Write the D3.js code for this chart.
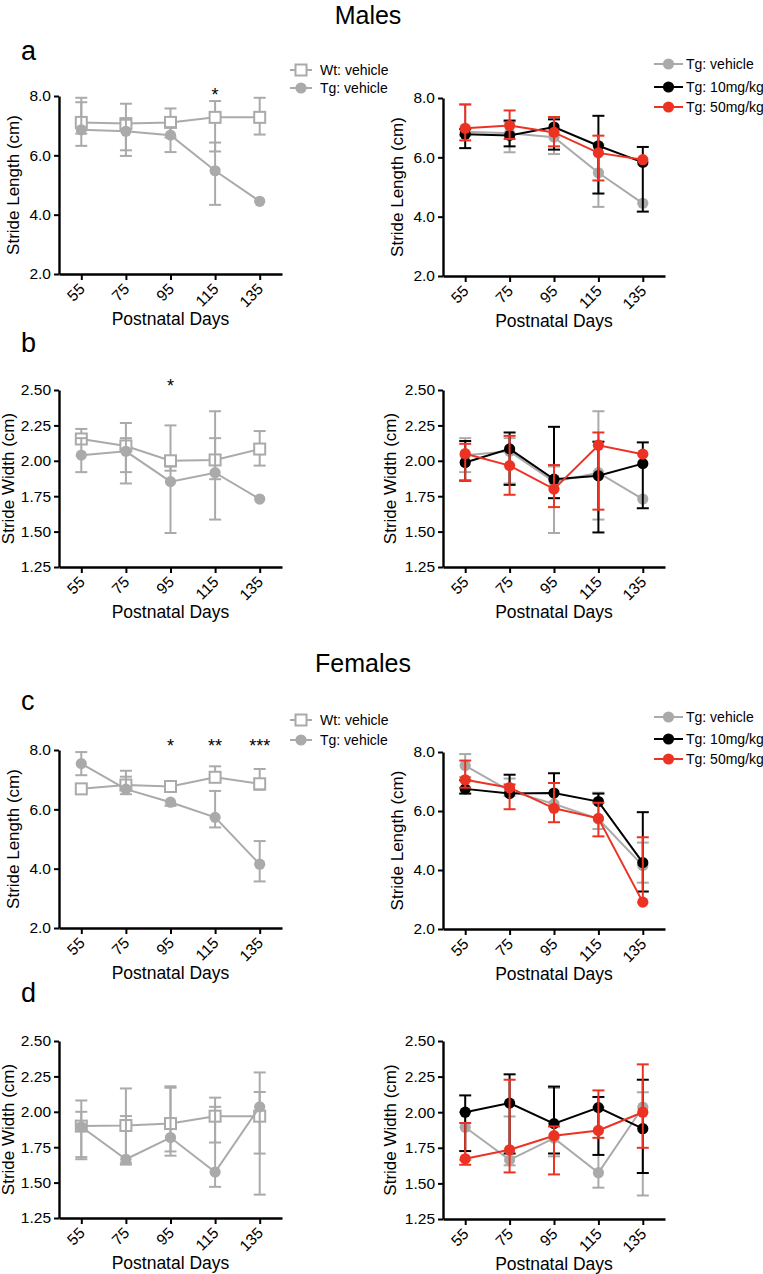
<!DOCTYPE html>
<html lang="en">
<head>
<meta charset="UTF-8">
<script src="https://d3js.org/d3.v7.min.js"></script>
<title>Stride length and width</title>
<style>
  body { margin: 0; background: #fff; }
  svg { display: block; font-family: "Liberation Sans", Arial, sans-serif; }
</style>
</head>
<body>
<div id="chart"></div>
<script>
// categories
const days = [55, 75, 95, 115, 135];
const lenTicks = [2, 4, 6, 8];
const widTicks = [1.25, 1.5, 1.75, 2.0, 2.25, 2.5];

// Males - stride length
const mLenWt   = [7.11, 7.07, 7.11, 7.28, 7.28];
const mLenWtHi = [7.94, 7.74, 7.58, 7.83, 7.94];
const mLenWtLo = [6.32, 5.98, 6.60, 6.13, 6.70];
const mLenTg   = [6.86, 6.81, 6.68, 5.48, 4.45];
const mLenTgHi = [7.79, 7.20, 6.95, 6.43, null];
const mLenTgLo = [6.73, 6.17, 6.11, 4.33, null];
const mLen10   = [6.78, 6.74, 7.02, 6.39, 5.83];
const mLen10Hi = [6.95, 7.24, 7.28, 7.40, 6.35];
const mLen10Lo = [6.31, 6.37, 6.26, 4.78, 4.17];
const mLen50   = [6.98, 7.07, 6.84, 6.15, 5.92];
const mLen50Hi = [7.78, 7.58, 7.36, 6.73, null];
const mLen50Lo = [6.57, 6.62, 6.37, 5.22, null];

// Males - stride width
const mWidWt   = [2.154, 2.105, 2.00, 2.006, 2.083];
const mWidWtHi = [2.225, 2.267, 2.25, 2.16, 2.21];
const mWidWtLo = [null, 1.92, 1.93, 1.87, 1.966];
const mWidTg   = [2.04, 2.067, 1.853, 1.916, 1.73];
const mWidTgHi = [2.16, 2.16, 1.96, 2.35, null];
const mWidTgLo = [1.92, 1.84, 1.49, 1.585, null];
const mWid10   = [1.988, 2.084, 1.87, 1.895, 1.98];
const mWid10Hi = [2.14, 2.20, 2.24, 2.135, 2.13];
const mWid10Lo = [1.86, 1.83, 1.736, 1.494, 1.665];
const mWid50   = [2.05, 1.966, 1.80, 2.11, 2.047];
const mWid50Hi = [2.12, 2.176, 1.97, 2.20, null];
const mWid50Lo = [1.86, 1.76, 1.673, 1.655, null];

// Females - stride length
const fLenWt   = [6.69, 6.82, 6.77, 7.08, 6.86];
const fLenWtHi = [null, 7.30, null, 7.45, 7.36];
const fLenWtLo = [null, null, null, null, 6.66];
const fLenTg   = [7.54, 6.68, 6.24, 5.73, 4.15];
const fLenTgHi = [7.93, 7.10, null, 6.62, 4.93];
const fLenTgLo = [7.15, 6.51, 6.12, 5.39, 3.57];
const fLen10   = [6.75, 6.59, 6.61, 6.32, 4.25];
const fLen10Hi = [7.04, 7.23, 7.28, 6.59, 5.96];
const fLen10Lo = [6.59, null, null, null, 3.27];
const fLen50   = [7.06, 6.79, 6.09, 5.75, 2.91];
const fLen50Hi = [7.71, 6.90, 6.95, 6.28, 5.11];
const fLen50Lo = [6.79, 6.06, 5.62, 5.14, null];

// Females - stride width
const fWidWt   = [1.899, 1.903, 1.917, 1.969, 1.969];
const fWidWtHi = [2.08, 2.165, 2.18, 2.10, 2.278];
const fWidWtLo = [1.68, 1.64, 1.72, 1.783, 1.705];
const fWidTg   = [1.894, 1.665, 1.818, 1.575, 2.035];
const fWidTgHi = [2.0, 1.97, 2.17, 2.035, 2.14];
const fWidTgLo = [1.665, 1.627, 1.69, 1.47, 1.415];
const fWid10   = [2.0, 2.064, 1.92, 2.032, 1.884];
const fWid10Hi = [2.118, 2.266, 2.18, 2.107, 2.228];
const fWid10Lo = [1.727, 1.71, 1.71, 1.70, 1.573];
const fWid50   = [1.673, 1.736, 1.835, 1.872, 2.0];
const fWid50Hi = [1.924, 2.228, 1.90, 2.153, 2.336];
const fWid50Lo = [1.631, 1.577, 1.563, 1.82, 1.75];

const grey = "#aaaaaa", red = "#ec3323", black = "#000000";
const W = 763, H = 1274;

const svg = d3.select("#chart").append("svg").attr("width", W).attr("height", H);

function ser(name, vals, hi, lo, color, shape) {
  return { name, vals, hi, lo, color, shape };
}

function marker(g, shape, color, cx, cy) {
  if (shape === "square") {
    g.append("rect").attr("x", cx - 5.5).attr("y", cy - 5.5).attr("width", 11).attr("height", 11)
      .attr("fill", "#fff").attr("stroke", color).attr("stroke-width", 2);
  } else {
    g.append("circle").attr("cx", cx).attr("cy", cy).attr("r", 5.6).attr("fill", color);
  }
}

function panel(p) {
  const x = d3.scalePoint().domain(days).range([p.left, p.right]).padding(0.5);
  const y = d3.scaleLinear().domain(p.domain).range([p.bottom, p.top]);
  const g = svg.append("g");

  // axes
  const yAxis = d3.axisLeft(y).tickValues(p.ticks).tickFormat(d3.format(p.fmt)).tickSize(5).tickSizeOuter(0);
  const gy = g.append("g").attr("transform", `translate(${p.left},0)`).call(yAxis);
  const xAxis = d3.axisBottom(x).tickSize(6).tickSizeOuter(0);
  const gx = g.append("g").attr("transform", `translate(0,${p.bottom})`).call(xAxis);
  [gx, gy].forEach(a => {
    a.select(".domain").attr("stroke-width", 2.4).attr("stroke", "#000");
    a.selectAll(".tick line").attr("stroke-width", 2).attr("stroke", "#000");
    a.selectAll("text").attr("font-size", 15.5).attr("fill", "#000")
      .attr("font-family", "Liberation Sans, Arial, sans-serif");
  });
  gx.selectAll("text").attr("y", 0).attr("dy", 0).attr("x", 0)
    .attr("transform", "translate(4,16) rotate(-45)").style("text-anchor", "end");

  // axis titles
  g.append("text").attr("x", (p.left + p.right) / 2).attr("y", p.bottom + 51)
    .attr("text-anchor", "middle").attr("font-size", 17.5).text("Postnatal Days");
  g.append("text")
    .attr("transform", `translate(${p.left - p.yLabOff},${(p.top + p.bottom) / 2}) rotate(-90)`)
    .attr("text-anchor", "middle").attr("dominant-baseline", "middle")
    .attr("font-size", 17).text(p.yLabel);

  // series
  p.series.forEach(s => {
    const sg = g.append("g");
    days.forEach((d, i) => {
      const cx = x(d), cy = y(s.vals[i]);
      [s.hi[i], s.lo[i]].forEach(e => {
        if (e == null) return;
        sg.append("line").attr("x1", cx).attr("x2", cx).attr("y1", cy).attr("y2", y(e))
          .attr("stroke", s.color).attr("stroke-width", 2);
        sg.append("line").attr("x1", cx - 6).attr("x2", cx + 6).attr("y1", y(e)).attr("y2", y(e))
          .attr("stroke", s.color).attr("stroke-width", 2);
      });
    });
    const line = d3.line().x((v, i) => x(days[i])).y(v => y(v));
    sg.append("path").attr("d", line(s.vals)).attr("fill", "none")
      .attr("stroke", s.color).attr("stroke-width", 2);
    days.forEach((d, i) => marker(sg, s.shape, s.color, x(d), y(s.vals[i])));
  });

  // stars
  (p.stars || []).forEach(st => {
    g.append("text").attr("x", x(st.day)).attr("y", p.starY + 10)
      .attr("text-anchor", "middle").attr("font-size", 18).text(st.text);
  });

  // legend
  if (p.legend) {
    const L = p.legend;
    p.series.forEach((s, i) => {
      const ly = L.rows[i];
      g.append("line").attr("x1", L.x0).attr("x2", L.x1).attr("y1", ly).attr("y2", ly)
        .attr("stroke", s.color).attr("stroke-width", 2);
      marker(g, s.shape, s.color, (L.x0 + L.x1) / 2, ly);
      g.append("text").attr("x", L.tx).attr("y", ly + 5).attr("font-size", 14).text(s.name);
    });
  }
}

const LL = 59, LR = 282, RL = 443, RR = 665;
const lenLab = "Stride Length (cm)", widLab = "Stride Width (cm)";

panel({ left: LL, right: LR, top: 96, bottom: 274, domain: [2, 8], ticks: lenTicks, fmt: ".1f",
  yLabel: lenLab, yLabOff: 44,
  series: [ser("Wt: vehicle", mLenWt, mLenWtHi, mLenWtLo, grey, "square"),
           ser("Tg: vehicle", mLenTg, mLenTgHi, mLenTgLo, grey, "circle")],
  legend: { rows: [70, 88], x0: 290, x1: 312, tx: 320 },
  stars: [{ day: 115, text: "*" }], starY: 91 });

panel({ left: RL, right: RR, top: 98, bottom: 276, domain: [2, 8], ticks: lenTicks, fmt: ".1f",
  yLabel: lenLab, yLabOff: 44,
  series: [ser("Tg: vehicle", mLenTg, mLenTgHi, mLenTgLo, grey, "circle"),
           ser("Tg: 10mg/kg", mLen10, mLen10Hi, mLen10Lo, black, "circle"),
           ser("Tg: 50mg/kg", mLen50, mLen50Hi, mLen50Lo, red, "circle")],
  legend: { rows: [64, 87, 107], x0: 654, x1: 683, tx: 686 } });

panel({ left: LL, right: LR, top: 390, bottom: 567, domain: [1.25, 2.5], ticks: widTicks, fmt: ".2f",
  yLabel: widLab, yLabOff: 49,
  series: [ser("Wt: vehicle", mWidWt, mWidWtHi, mWidWtLo, grey, "square"),
           ser("Tg: vehicle", mWidTg, mWidTgHi, mWidTgLo, grey, "circle")],
  stars: [{ day: 95, text: "*" }], starY: 382 });

panel({ left: RL, right: RR, top: 390, bottom: 567, domain: [1.25, 2.5], ticks: widTicks, fmt: ".2f",
  yLabel: widLab, yLabOff: 51,
  series: [ser("Tg: vehicle", mWidTg, mWidTgHi, mWidTgLo, grey, "circle"),
           ser("Tg: 10mg/kg", mWid10, mWid10Hi, mWid10Lo, black, "circle"),
           ser("Tg: 50mg/kg", mWid50, mWid50Hi, mWid50Lo, red, "circle")] });

panel({ left: LL, right: LR, top: 750, bottom: 928, domain: [2, 8], ticks: lenTicks, fmt: ".1f",
  yLabel: lenLab, yLabOff: 44,
  series: [ser("Wt: vehicle", fLenWt, fLenWtHi, fLenWtLo, grey, "square"),
           ser("Tg: vehicle", fLenTg, fLenTgHi, fLenTgLo, grey, "circle")],
  legend: { rows: [720, 740], x0: 290, x1: 312, tx: 320 },
  stars: [{ day: 95, text: "*" }, { day: 115, text: "**" }, { day: 135, text: "***" }], starY: 742 });

panel({ left: RL, right: RR, top: 752, bottom: 929, domain: [2, 8], ticks: lenTicks, fmt: ".1f",
  yLabel: lenLab, yLabOff: 44,
  series: [ser("Tg: vehicle", fLenTg, fLenTgHi, fLenTgLo, grey, "circle"),
           ser("Tg: 10mg/kg", fLen10, fLen10Hi, fLen10Lo, black, "circle"),
           ser("Tg: 50mg/kg", fLen50, fLen50Hi, fLen50Lo, red, "circle")],
  legend: { rows: [717, 739, 759], x0: 654, x1: 683, tx: 686 } });

panel({ left: LL, right: LR, top: 1041, bottom: 1218, domain: [1.25, 2.5], ticks: widTicks, fmt: ".2f",
  yLabel: widLab, yLabOff: 49,
  series: [ser("Wt: vehicle", fWidWt, fWidWtHi, fWidWtLo, grey, "square"),
           ser("Tg: vehicle", fWidTg, fWidTgHi, fWidTgLo, grey, "circle")] });

panel({ left: RL, right: RR, top: 1041, bottom: 1219, domain: [1.25, 2.5], ticks: widTicks, fmt: ".2f",
  yLabel: widLab, yLabOff: 51,
  series: [ser("Tg: vehicle", fWidTg, fWidTgHi, fWidTgLo, grey, "circle"),
           ser("Tg: 10mg/kg", fWid10, fWid10Hi, fWid10Lo, black, "circle"),
           ser("Tg: 50mg/kg", fWid50, fWid50Hi, fWid50Lo, red, "circle")] });

// section titles and panel letters
svg.append("text").attr("x", 368).attr("y", 24).attr("text-anchor", "middle").attr("font-size", 25).text("Males");
svg.append("text").attr("x", 363).attr("y", 672).attr("text-anchor", "middle").attr("font-size", 25).text("Females");
[["a", 60], ["b", 352], ["c", 710], ["d", 1002]].forEach(([t, yy]) => {
  svg.append("text").attr("x", 21).attr("y", yy).attr("font-size", 27).text(t);
});
</script>
</body>
</html>
